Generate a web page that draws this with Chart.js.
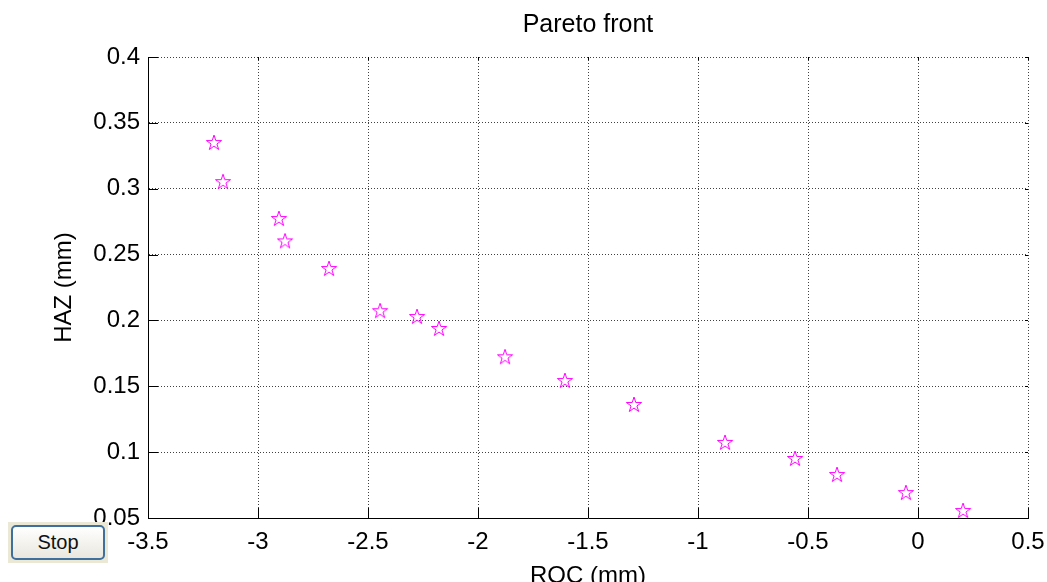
<!DOCTYPE html>
<html>
<head>
<meta charset="utf-8">
<script src="https://cdn.jsdelivr.net/npm/chart.js@4/dist/chart.umd.min.js"></script>
<style>
    body { margin: 0; background: #fff; }
    #wrap { position: relative; width: 1047px; height: 582px; overflow: hidden; }
    #stopFrame {
        position: absolute; left: 8px; top: 522px; width: 100px; height: 41px;
        background: #ebe8d6; box-sizing: border-box; padding: 3px;
    }
    #stopBtn {
        width: 100%; height: 100%; box-sizing: border-box;
        border: 2px solid #3f6f9c; border-radius: 5px;
        background: linear-gradient(#ffffff, #e9e7de);
        font: 20px "Liberation Sans", Arial, sans-serif; color: #111;
        padding: 0;
    }
</style>
</head>
<body>
<div id="wrap">
    <canvas id="paretoChart" width="1047" height="582"></canvas>
    <div id="stopFrame"><button id="stopBtn">Stop</button></div>
</div>
<script>
// values
const rocValues = [-3.2, -3.159, -2.905, -2.877, -2.677, -2.445, -2.277, -2.177, -1.877, -1.605, -1.291, -0.877, -0.559, -0.368, -0.055, 0.205];
const hazValues = [0.3347, 0.305, 0.277, 0.260, 0.239, 0.207, 0.2026, 0.1935, 0.172, 0.154, 0.1358, 0.107, 0.0948, 0.0826, 0.0689, 0.0553];
const xTicks = [-3.5, -3, -2.5, -2, -1.5, -1, -0.5, 0, 0.5];
const yTicks = [0.05, 0.1, 0.15, 0.2, 0.25, 0.3, 0.35, 0.4];

const FONT = '"Liberation Sans", Arial, sans-serif';

// pentagram marker like MATLAB's 'p'
function makeStar() {
    const c = document.createElement('canvas');
    c.width = 20;
    c.height = 20;
    const g = c.getContext('2d');
    const R = 8, r = 8 * 0.382;
    g.strokeStyle = '#ff00ff';
    g.lineWidth = 1;
    g.beginPath();
    for (let i = 0; i < 10; i++) {
        const rad = i % 2 === 0 ? R : r;
        const a = -Math.PI / 2 + i * Math.PI / 5;
        const px = 10 + rad * Math.cos(a), py = 10 + rad * Math.sin(a);
        if (i === 0) g.moveTo(px, py); else g.lineTo(px, py);
    }
    g.closePath();
    g.stroke();
    return c;
}
const starImg = makeStar();

// small inward tick marks on all four sides
const innerTicks = {
    id: 'innerTicks',
    afterDraw(chart) {
        const { ctx, chartArea: a, scales } = chart;
        ctx.save();
        ctx.strokeStyle = '#000';
        ctx.lineWidth = 1;
        ctx.beginPath();
        xTicks.forEach(v => {
            const px = Math.round(scales.x.getPixelForValue(v)) + 0.5;
            ctx.moveTo(px, a.bottom); ctx.lineTo(px, a.bottom - 10);
            ctx.moveTo(px, a.top); ctx.lineTo(px, a.top + 3);
        });
        yTicks.forEach(v => {
            const py = Math.round(scales.y.getPixelForValue(v)) + 0.5;
            ctx.moveTo(a.left, py); ctx.lineTo(a.left + 10, py);
            ctx.moveTo(a.right, py); ctx.lineTo(a.right - 3, py);
        });
        ctx.stroke();
        ctx.restore();
    }
};

const gridStyle = { color: 'rgba(0,0,0,0.75)', lineWidth: 1, drawTicks: false };

new Chart(document.getElementById('paretoChart'), {
    type: 'scatter',
    data: {
        datasets: [{
            data: rocValues.map((x, i) => ({ x: x, y: hazValues[i] })),
            pointStyle: starImg,
            pointRadius: 8,
            clip: false
        }]
    },
    options: {
        responsive: false,
        animation: false,
        layout: { padding: { left: 0, top: 0, right: 19, bottom: 0 } },
        plugins: {
            legend: { display: false },
            tooltip: { enabled: false },
            title: {
                display: true,
                text: 'Pareto front',
                fullSize: false,
                color: '#000',
                font: { family: FONT, size: 25, weight: 'normal' },
                padding: { top: 10, bottom: 17 }
            }
        },
        scales: {
            x: {
                type: 'linear',
                min: -3.5,
                max: 0.5,
                afterBuildTicks: s => { s.ticks = xTicks.map(v => ({ value: v })); },
                afterFit: s => { s.height = 64; s.paddingLeft = 0; s.paddingRight = 0; },
                grid: gridStyle,
                border: { display: true, color: '#000', width: 1, dash: [1, 2] },
                ticks: {
                    color: '#000', padding: 10, maxRotation: 0, autoSkip: false,
                    font: { family: FONT, size: 24 },
                    callback: v => String(v)
                },
                title: {
                    display: true, text: 'ROC (mm)', color: '#000',
                    font: { family: FONT, size: 24 },
                    padding: { top: 0, bottom: -9 }
                }
            },
            y: {
                type: 'linear',
                min: 0.05,
                max: 0.4,
                afterBuildTicks: s => { s.ticks = yTicks.map(v => ({ value: v })); },
                afterFit: s => { s.width = 148; s.paddingTop = 0; s.paddingBottom = 0; },
                grid: gridStyle,
                border: { display: true, color: '#000', width: 1, dash: [1, 2] },
                ticks: {
                    color: '#000', padding: 8, autoSkip: false,
                    font: { family: FONT, size: 24 },
                    callback: v => String(v)
                },
                title: {
                    display: true, text: 'HAZ (mm)', color: '#000',
                    font: { family: FONT, size: 24 },
                    padding: { top: 50, bottom: 0 }
                }
            }
        }
    },
    plugins: [innerTicks]
});
</script>
</body>
</html>
